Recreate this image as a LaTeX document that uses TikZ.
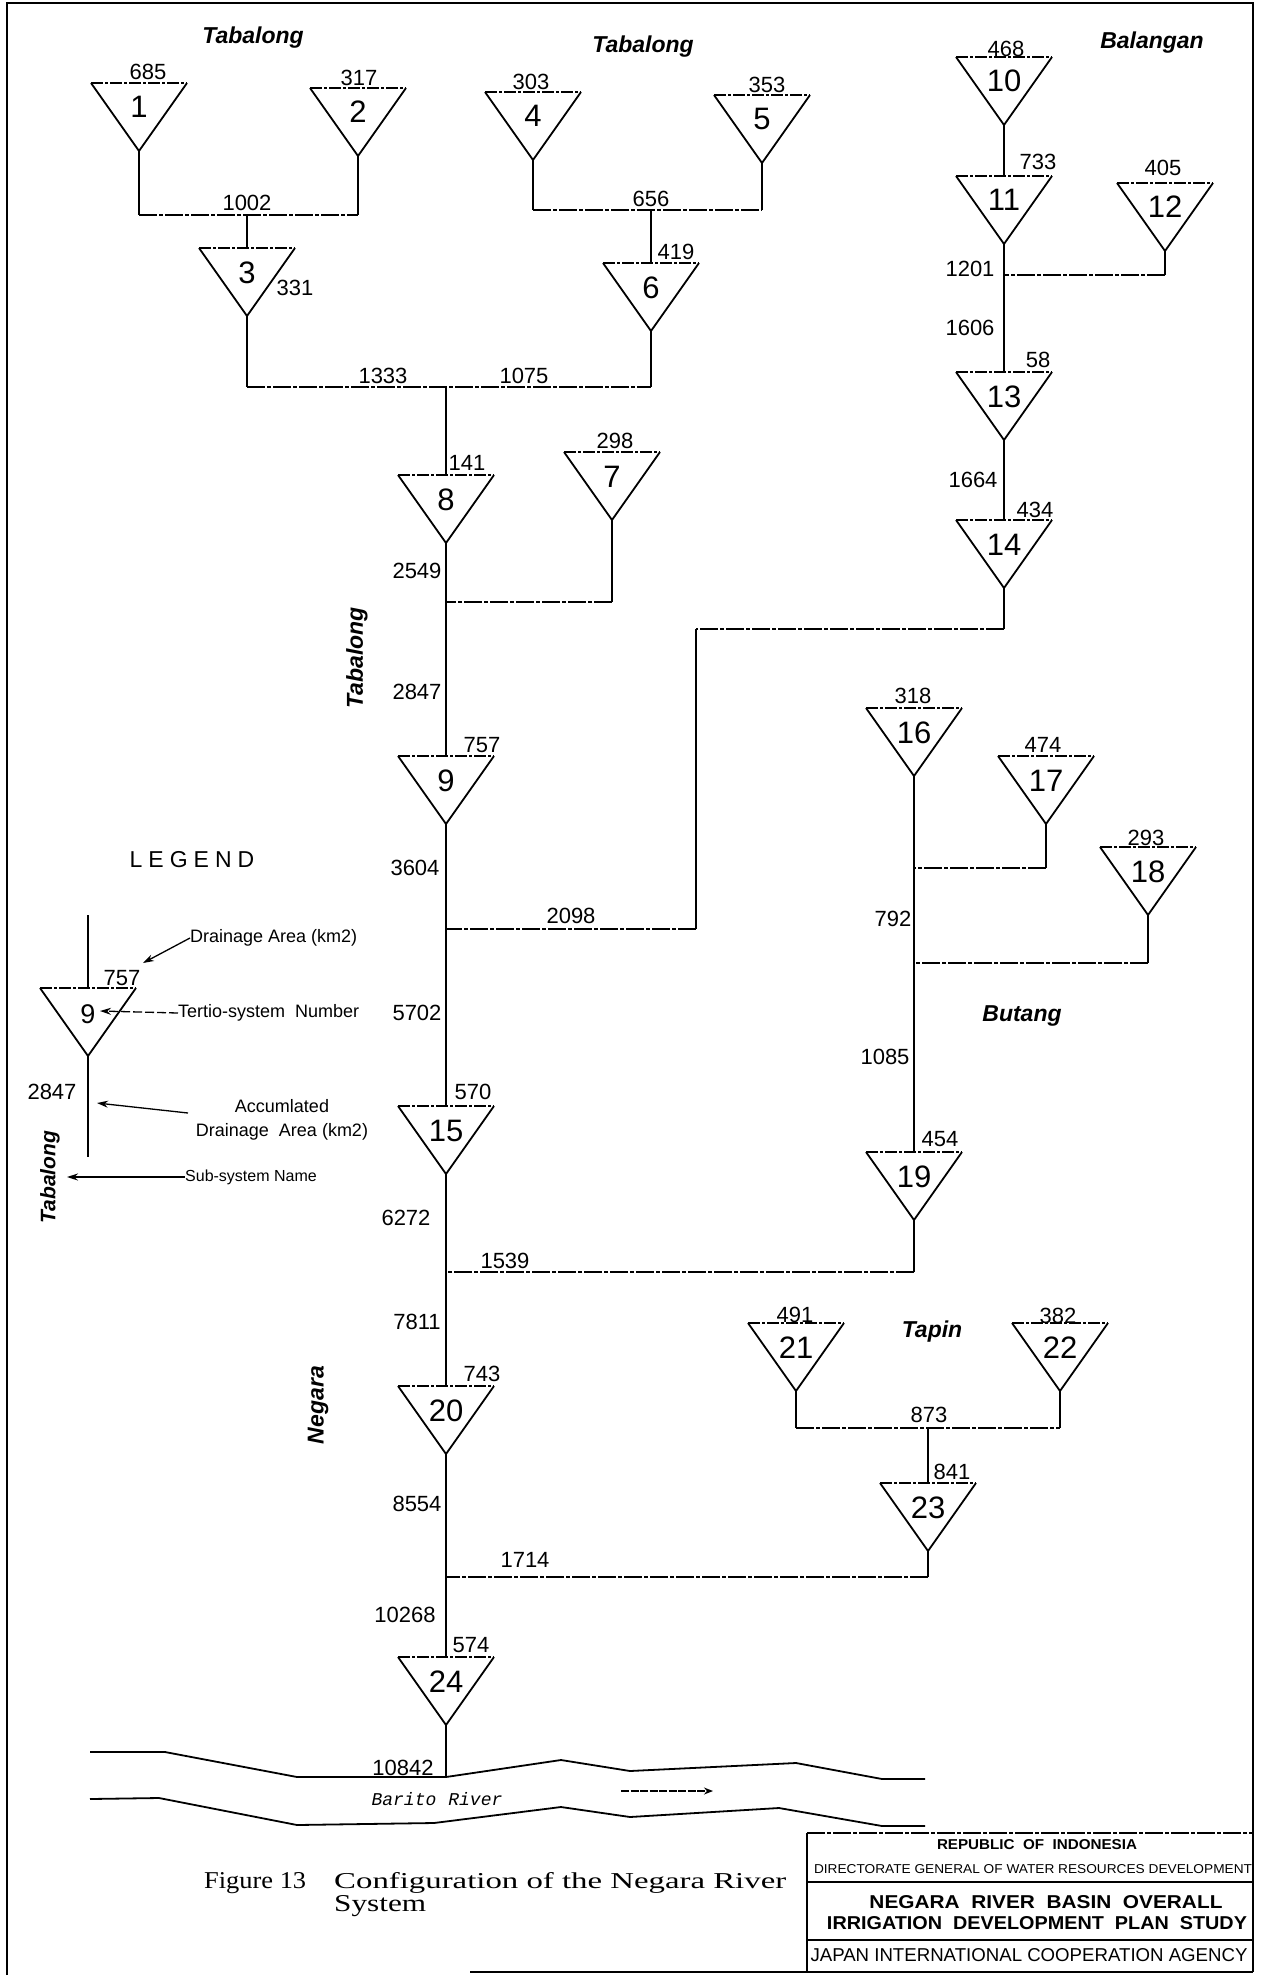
\documentclass[tikz,border=0pt]{standalone}
\usepackage{fontspec}
\setmainfont{Liberation Sans}
\newfontfamily\serifcap{Liberation Serif}
\newfontfamily\monofnt{Liberation Mono}
\usetikzlibrary{arrows.meta,calc}
\newcommand{\myfs}[1]{\fontsize{#1}{#1}\selectfont}
\tikzset{
  tri/.style={minimum width=96pt, minimum height=68pt, inner sep=0pt, outer sep=0pt,
              font=\myfs{31}, text height=22pt, text depth=20pt},
  num/.style={font=\myfs{22}, inner sep=0pt},
  sub/.style={font=\myfs{23}\bfseries\itshape, inner sep=0pt},
  vl/.style={line width=1.8pt},
  hl/.style={line width=1.3pt, dash pattern=on 18pt off 2pt on 4pt off 2pt},
  side/.style={line width=1.8pt, line join=miter},
  topl/.style={line width=1.2pt, dash pattern=on 12pt off 2pt on 3pt off 2pt},
  frame/.style={line width=1.6pt},
  riv/.style={line width=1.8pt, line join=round},
  legtxt/.style={font=\myfs{18}, inner sep=0pt},
  larr/.style={line width=1.3pt, -{Stealth[length=11pt,width=7pt]}},
}
\begin{document}
\begin{tikzpicture}[x=1pt,y=-1pt]
\fill[white] (0,0) rectangle (1261,1980);
\useasboundingbox (0,0) rectangle (1261,1980);

% frame
\draw[frame] (7,1975) -- (7,3) -- (1253,3) -- (1253,1972);
\draw[frame] (470,1972) -- (1253,1972);

% triangles
\node[tri] (T1) at (139,117) {1};
\node[tri] (T2) at (358,122) {2};
\node[tri] (T3) at (247,282) {3};
\node[tri] (T4) at (533,126) {4};
\node[tri] (T5) at (762,129) {5};
\node[tri] (T6) at (651,297) {6};
\node[tri] (T7) at (612,486) {7};
\node[tri] (T8) at (446,509) {8};
\node[tri] (T9) at (446,790) {9};
\node[tri] (T10) at (1004,91) {10};
\node[tri] (T11) at (1004,210) {11};
\node[tri] (T12) at (1165,217) {12};
\node[tri] (T13) at (1004,406) {13};
\node[tri] (T14) at (1004,554) {14};
\node[tri] (T15) at (446,1140) {15};
\node[tri] (T16) at (914,742) {16};
\node[tri] (T17) at (1046,790) {17};
\node[tri] (T18) at (1148,881) {18};
\node[tri] (T19) at (914,1186) {19};
\node[tri] (T20) at (446,1420) {20};
\node[tri] (T21) at (796,1357) {21};
\node[tri] (T22) at (1060,1357) {22};
\node[tri] (T23) at (928,1517) {23};
\node[tri] (T24) at (446,1691) {24};
\node[tri, font=\myfs{27}] (TL) at (88,1022) {9};

\foreach \i in {1,...,24}{
  \draw[side] (T\i.north west) -- (T\i.south) -- (T\i.north east);
  \draw[topl] (T\i.north west) -- (T\i.north east);
}
\draw[side] (TL.north west) -- (TL.south) -- (TL.north east);
\draw[topl] (TL.north west) -- (TL.north east);

% connectors: Tabalong upper
\coordinate (J12) at (247,215);
\draw[vl] (T1.south) -- (T1.south |- J12);
\draw[vl] (T2.south) -- (T2.south |- J12);
\draw[hl] (T1.south |- J12) -- (T2.south |- J12);
\draw[vl] (J12) -- (T3.north);
\coordinate (J45) at (651,210);
\draw[vl] (T4.south) -- (T4.south |- J45);
\draw[vl] (T5.south) -- (T5.south |- J45);
\draw[hl] (T4.south |- J45) -- (T5.south |- J45);
\draw[vl] (J45) -- (T6.north);
\coordinate (J36) at (446,387);
\draw[vl] (T3.south) -- (T3.south |- J36);
\draw[vl] (T6.south) -- (T6.south |- J36);
\draw[hl] (T3.south |- J36) -- (T6.south |- J36);
\draw[vl] (J36) -- (T8.north);
\coordinate (J7) at (446,602);
\draw[vl] (T7.south) -- (T7.south |- J7);
\draw[hl] (T7.south |- J7) -- (J7);
\draw[vl] (T8.south) -- (T9.north);
% Balangan
\draw[vl] (T10.south) -- (T11.north);
\draw[vl] (T11.south) -- (T13.north);
\coordinate (J12b) at (1004,275);
\draw[vl] (T12.south) -- (T12.south |- J12b);
\draw[hl] (T12.south |- J12b) -- (J12b);
\draw[vl] (T13.south) -- (T14.north);
\coordinate (K1) at (1004,629);
\coordinate (K2) at (696,629);
\coordinate (K3) at (696,929);
\coordinate (J14) at (446,929);
\draw[vl] (T14.south) -- (K1);
\draw[hl] (K1) -- (K2);
\draw[vl] (K2) -- (K3);
\draw[hl] (K3) -- (J14);
\draw[vl] (T9.south) -- (T15.north);
% Butang
\draw[vl] (T16.south) -- (T19.north);
\coordinate (J17) at (914,868);
\draw[vl] (T17.south) -- (T17.south |- J17);
\draw[hl] (T17.south |- J17) -- (J17);
\coordinate (J18) at (914,963);
\draw[vl] (T18.south) -- (T18.south |- J18);
\draw[hl] (T18.south |- J18) -- (J18);
\coordinate (J19) at (446,1272);
\draw[vl] (T19.south) -- (T19.south |- J19);
\draw[hl] (T19.south |- J19) -- (J19);
\draw[vl] (T15.south) -- (T20.north);
% Tapin
\coordinate (J2122) at (928,1428);
\draw[vl] (T21.south) -- (T21.south |- J2122);
\draw[vl] (T22.south) -- (T22.south |- J2122);
\draw[hl] (T21.south |- J2122) -- (T22.south |- J2122);
\draw[vl] (J2122) -- (T23.north);
\coordinate (J23) at (446,1577);
\draw[vl] (T23.south) -- (T23.south |- J23);
\draw[hl] (T23.south |- J23) -- (J23);
\draw[vl] (T20.south) -- (T24.north);
\coordinate (R) at (446,1777);
\draw[vl] (T24.south) -- (R);

% river
\draw[riv] (90,1752) -- (165,1752) -- (297,1777) -- (R) -- (561,1760) -- (630,1771) -- (796,1763) -- (882,1779) -- (925,1779);
\draw[riv] (90,1799) -- (159,1798) -- (297,1825) -- (434,1823) -- (561,1807) -- (630,1817) -- (779,1808) -- (882,1826) -- (925,1826);
\coordinate (RA1) at (621,1791);
\coordinate (RA2) at (713,1791);
\draw[line width=1.6pt, dash pattern=on 8pt off 1.5pt, -{Stealth[length=9pt,width=7pt]}] (RA1) -- (RA2);
\node[font=\monofnt\myfs{18}\itshape, inner sep=0pt] (barito) at (437,1799) {Barito\hspace{12pt}River};

% sub-system names
\node[sub] (nTab1) at (253,38) {Tabalong};
\node[sub] (nTab2) at (643,47) {Tabalong};
\node[sub] (nBal) at (1152,43) {Balangan};
\node[sub, rotate=90] (nTab3) at (357,658) {Tabalong};
\node[sub] (nBut) at (1022,1016) {Butang};
\node[sub] (nTap) at (932,1332) {Tapin};
\node[sub, rotate=90] (nNeg) at (318,1405) {Negara};
\node[sub, rotate=90, font=\myfs{21}\bfseries\itshape] (nTabL) at (50,1177) {Tabalong};

% drainage areas and accumulated areas
\node[num] (a1) at (148,72) {685};
\node[num] (a2) at (359,78) {317};
\node[num] (m1002) at (247,203) {1002};
\node[num] (a3) at (295,288) {331};
\node[num] (m1333) at (383,376) {1333};
\node[num] (m1075) at (524,376) {1075};
\node[num] (a4) at (531,82) {303};
\node[num] (a5) at (767,85) {353};
\node[num] (m656) at (651,199) {656};
\node[num] (a6) at (676,252) {419};
\node[num] (a8) at (467,463) {141};
\node[num] (a7) at (615,441) {298};
\node[num] (m2549) at (417,571) {2549};
\node[num] (m2847) at (417,692) {2847};
\node[num] (a9) at (482,745) {757};
\node[num] (m3604) at (415,868) {3604};
\node[num] (m2098) at (571,916) {2098};
\node[num] (m5702) at (417,1013) {5702};
\node[num] (a15) at (473,1092) {570};
\node[num] (m6272) at (406,1218) {6272};
\node[num] (m1539) at (505,1261) {1539};
\node[num] (m7811) at (417,1322) {7811};
\node[num] (a20) at (482,1374) {743};
\node[num] (m8554) at (417,1504) {8554};
\node[num] (m1714) at (525,1560) {1714};
\node[num] (m10268) at (405,1615) {10268};
\node[num] (a24) at (471,1645) {574};
\node[num] (m10842) at (403,1768) {10842};
\node[num] (a10) at (1006,49) {468};
\node[num] (a11) at (1038,162) {733};
\node[num] (a12) at (1163,168) {405};
\node[num] (m1201) at (970,269) {1201};
\node[num] (m1606) at (970,328) {1606};
\node[num] (a13) at (1038,360) {58};
\node[num] (m1664) at (973,480) {1664};
\node[num] (a14) at (1035,510) {434};
\node[num] (a16) at (913,696) {318};
\node[num] (a17) at (1043,745) {474};
\node[num] (a18) at (1146,838) {293};
\node[num] (m792) at (893,919) {792};
\node[num] (m1085) at (885,1057) {1085};
\node[num] (a19) at (940,1139) {454};
\node[num] (a21) at (795,1315) {491};
\node[num] (a22) at (1058,1316) {382};
\node[num] (m873) at (929,1415) {873};
\node[num] (a23) at (952,1472) {841};

% legend
\node[font=\myfs{23}, inner sep=0pt] (leg) at (192,860) {L\kern6pt E\kern6pt G\kern6pt E\kern6pt N\kern6pt D};
\coordinate (LT) at (88,915);
\coordinate (LB) at (88,1157);
\draw[vl] (LT) -- (TL.north);
\draw[vl] (TL.south) -- (LB);
\node[num] (la) at (122,978) {757};
\node[num] (lacc) at (52,1092) {2847};
\node[legtxt, anchor=west] (LDA) at (190,938) {Drainage Area (km2)};
\node[legtxt, anchor=west] (LTN) at (178,1013) {Tertio-system\ \ Number};
\node[legtxt, align=center, font=\fontsize{18}{24}\selectfont] (LAD) at (282,1120) {Accumlated\\Drainage\ \ Area (km2)};
\node[legtxt, anchor=west, font=\myfs{16}] (LSN) at (185,1177) {Sub-system Name};
\coordinate (la1) at (143,963);
\coordinate (la2) at (100,1011);
\coordinate (la3) at (97,1103);
\coordinate (la4) at (67,1177);
\coordinate (ls3) at (188,1113);
\draw[larr] (LDA.west) -- (la1);
\draw[larr, dash pattern=on 9pt off 3pt] (LTN.west) -- (la2);
\draw[larr] (ls3) -- (la3);
\draw[larr] (LSN.west) -- (la4);

% caption
\node[font=\serifcap\myfs{23}, anchor=base west, inner sep=0pt] (cap1) at (204,1888) {\resizebox{102pt}{16pt}{Figure 13}};
\node[font=\serifcap\myfs{23}, anchor=base west, inner sep=0pt] (cap2) at (334,1888) {\resizebox{452pt}{16pt}{Configuration of the Negara River}};
\node[font=\serifcap\myfs{23}, anchor=base west, inner sep=0pt] (cap3) at (334,1911) {\resizebox{92pt}{16pt}{System}};

% title block
\draw[frame] (807,1833) -- (807,1972);
\draw[hl] (807,1833) -- (1253,1833);
\draw[line width=1.3pt] (807,1882) -- (1253,1882);
\draw[line width=1.3pt] (807,1940) -- (1253,1940);
\node[inner sep=0pt] (tb1) at (1037,1845) {\resizebox{200pt}{10pt}{\bfseries REPUBLIC\ \ OF\ \ INDONESIA}};
\node[inner sep=0pt] (tb2) at (1033,1869) {\resizebox{438pt}{9pt}{DIRECTORATE GENERAL OF WATER RESOURCES DEVELOPMENT}};
\node[inner sep=0pt] (tb3) at (1046,1902) {\resizebox{353pt}{13pt}{\bfseries NEGARA\ \ RIVER\ \ BASIN\ \ OVERALL}};
\node[inner sep=0pt] (tb4) at (1037,1923) {\resizebox{420pt}{13pt}{\bfseries IRRIGATION\ \ DEVELOPMENT\ \ PLAN\ \ STUDY}};
\node[inner sep=0pt] (tb5) at (1029,1955) {\resizebox{437pt}{13pt}{JAPAN INTERNATIONAL COOPERATION AGENCY}};
\end{tikzpicture}
\end{document}
